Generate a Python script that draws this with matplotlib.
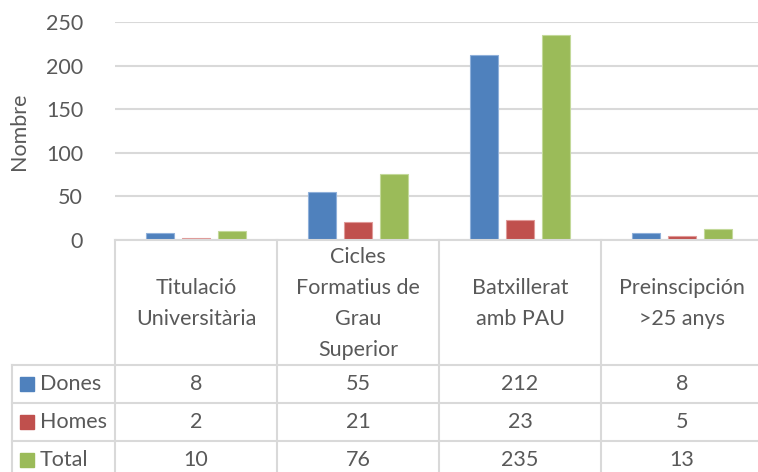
import matplotlib
matplotlib.use("Agg")
import matplotlib.pyplot as plt
from matplotlib.patches import Rectangle

categories = ["Titulació\nUniversitària", "Cicles\nFormatius de\nGrau\nSuperior",
              "Batxillerat\namb PAU", "Preinscipción\n>25 anys"]
series_names = ["Dones", "Homes", "Total"]
dones = [8, 55, 212, 8]
homes = [2, 21, 23, 5]
total = [10, 76, 235, 13]
series_values = [dones, homes, total]
colors = ["#4F81BD", "#C0504D", "#9BBB59"]
edge_colors = ["#8FB0DA", "#E09A98", "#C3D99A"]
yticks = [0, 50, 100, 150, 200, 250]

FONT = "Lato"
TXT = "#595959"
GRID = "#D9D9D9"
FS = 15.5

W, H = 758, 472
fig = plt.figure(figsize=(W / 100, H / 100), dpi=100)

# plot area in pixels
px_l, px_r, px_t, px_b = 115, 763, 22, 240
ax = fig.add_axes([px_l / W, 1 - px_b / H, (px_r - px_l) / W, (px_b - px_t) / H])
n = len(categories)
ax.set_xlim(-0.5, n - 0.5)
ax.set_ylim(0, 250)
ax.set_yticks(yticks)
ax.set_xticks([])
for s in ax.spines.values():
    s.set_visible(False)
ax.yaxis.grid(True, color=GRID, linewidth=1.5)
ax.set_axisbelow(True)
ax.tick_params(axis="y", length=0, pad=23, labelsize=FS, labelcolor=TXT)
for lab in ax.get_yticklabels():
    lab.set_fontfamily(FONT)
ax.set_ylabel("Nombre", fontsize=FS, color=TXT, fontfamily=FONT, labelpad=12)

bw = 0.173
off = 0.222
for k, (vals, col, ec) in enumerate(zip(series_values, colors, edge_colors)):
    xs = [i + (k - 1) * off for i in range(n)]
    ax.bar(xs, vals, width=bw, color=col, edgecolor=ec, linewidth=0.8, zorder=3)

# data table
tab_l_px = 12
cat_px = (px_r - px_l) / n
xl = -0.5 - (px_l - tab_l_px) / cat_px
tab = fig.add_axes([tab_l_px / W, 0, (px_r - tab_l_px) / W, (H - px_b) / H])
tab.set_xlim(xl, n - 0.5)
tab.set_ylim(H - px_b, 0)
tab.axis("off")

head_h = 125
row_h = 38
row_tops = [head_h + r * row_h for r in range(len(series_names))]
lw = 1.5
tab.plot([-0.5, n - 0.5], [0, 0], color=GRID, lw=lw, clip_on=False)
for yt in row_tops:
    tab.plot([xl, n - 0.5], [yt, yt], color=GRID, lw=lw, clip_on=False)
tab.plot([xl, xl], [head_h, H], color=GRID, lw=lw, clip_on=False)
for i in range(n + 1):
    tab.plot([i - 0.5, i - 0.5], [0, H], color=GRID, lw=lw, clip_on=False)

for i, c in enumerate(categories):
    tab.text(i, head_h / 2 + 1, c, ha="center", va="center", fontsize=FS,
             color=TXT, fontfamily=FONT, linespacing=1.68)

px2x = 1 / cat_px
for r, (name, vals, col) in enumerate(zip(series_names, series_values, colors)):
    yc = row_tops[r] + row_h / 2
    tab.add_patch(Rectangle((xl + 8 * px2x, yc - 7), 14 * px2x, 14, color=col,
                            clip_on=False))
    tab.text(xl + 28 * px2x, yc, name, ha="left", va="center", fontsize=FS,
             color=TXT, fontfamily=FONT)
    for i, v in enumerate(vals):
        tab.text(i, yc, str(v), ha="center", va="center", fontsize=FS,
                 color=TXT, fontfamily=FONT)

fig.savefig("out.png", dpi=100)
